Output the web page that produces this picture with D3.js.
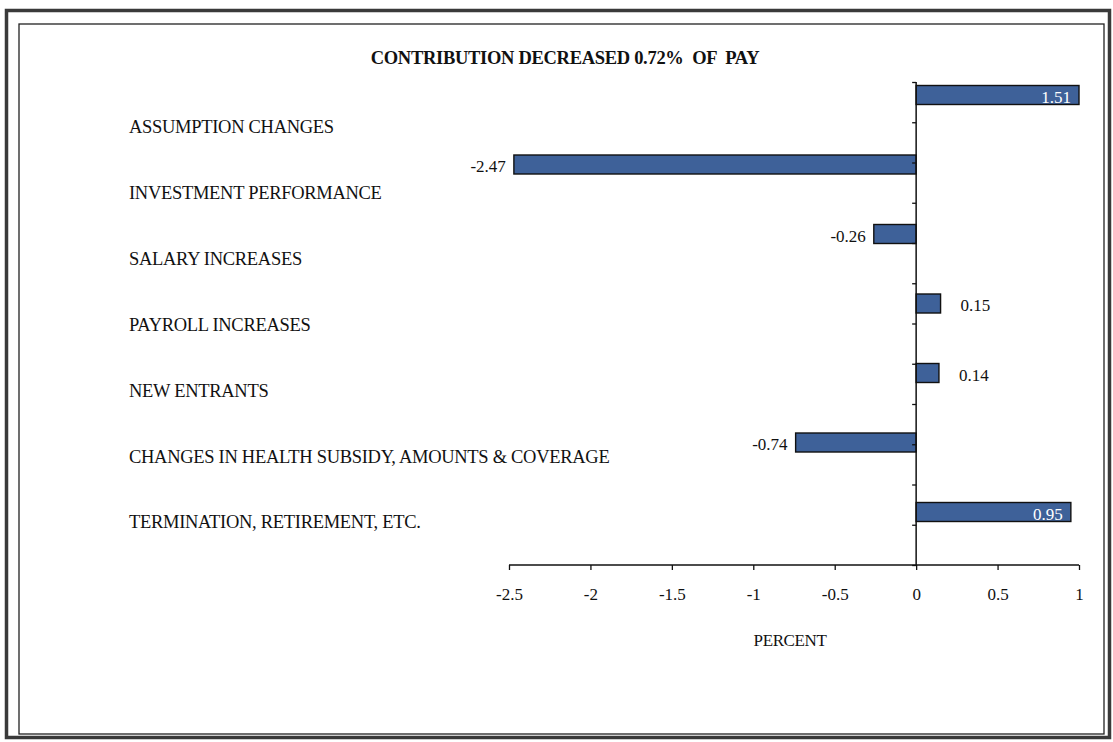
<!DOCTYPE html>
<html>
<head>
<meta charset="utf-8">
<script src="https://cdn.jsdelivr.net/npm/d3@7"></script>
<style>
  html, body { margin: 0; padding: 0; background: #fff; }
  svg { display: block; }
  text { font-family: "Liberation Serif", "Times New Roman", serif; fill: #111; }
</style>
</head>
<body>
<svg id="chart" width="1113" height="742"></svg>
<script>
// Sources of the change in contribution rate, percent of pay
const categories = [
  "ASSUMPTION CHANGES",
  "INVESTMENT PERFORMANCE",
  "SALARY INCREASES",
  "PAYROLL INCREASES",
  "NEW ENTRANTS",
  "CHANGES IN HEALTH SUBSIDY, AMOUNTS & COVERAGE",
  "TERMINATION, RETIREMENT, ETC."
];
const values = [1.51, -2.47, -0.26, 0.15, 0.14, -0.74, 0.95];
const xTickValues = [-2.5, -2, -1.5, -1, -0.5, 0, 0.5, 1];
const titleText = "CONTRIBUTION DECREASED 0.72%  OF  PAY";
const xAxisTitle = "PERCENT";

const svg = d3.select("#chart");
const W = 1113, H = 742;

// page frame: heavy outer rule and thin inner rule
svg.append("rect")
  .attr("x", 6.5).attr("y", 10.5).attr("width", W - 10).attr("height", H - 15)
  .attr("fill", "none").attr("stroke", "#3a3a3a").attr("stroke-width", 3.5);
svg.append("rect")
  .attr("x", 19).attr("y", 24).attr("width", 1085).attr("height", 710)
  .attr("fill", "none").attr("stroke", "#222").attr("stroke-width", 1.3);

// scales
const x = d3.scaleLinear().domain([-2.5, 1]).range([509, 1079]).clamp(true);
const yBar = d3.scalePoint().domain(categories).range([95, 512]);
const yLabel = d3.scalePoint().domain(categories).range([127, 522]);
const barH = 19;
const axisY = 565;

// title
svg.append("text")
  .attr("x", 565).attr("y", 64)
  .attr("text-anchor", "middle")
  .attr("font-size", 18.5).attr("font-weight", "bold")
  .attr("letter-spacing", -0.3)
  .attr("xml:space", "preserve")
  .text(titleText);

// category labels
svg.append("g").selectAll("text")
  .data(categories)
  .join("text")
  .attr("x", 129)
  .attr("y", d => yLabel(d))
  .attr("dy", "0.35em")
  .attr("font-size", 18.5)
  .attr("letter-spacing", -0.3)
  .text(d => d);

// bars
const rows = categories.map((c, i) => ({ cat: c, v: values[i] }));
svg.append("g").selectAll("rect")
  .data(rows)
  .join("rect")
  .attr("x", d => Math.min(x(0), x(d.v)))
  .attr("y", d => yBar(d.cat) - barH / 2)
  .attr("width", d => Math.abs(x(d.v) - x(0)))
  .attr("height", barH)
  .attr("fill", "#3e6199")
  .attr("stroke", "#111")
  .attr("stroke-width", 1.4);

// value labels: outside the bar end where there is room, otherwise inside it
const fmt = d => d.toFixed(2);
const maxRight = 1040;
svg.append("g").selectAll("text")
  .data(rows)
  .join("text")
  .each(function(d) {
    const t = d3.select(this);
    const end = x(d.v);
    t.attr("y", yBar(d.cat) + 2).attr("dy", "0.35em").attr("font-size", 17).text(fmt(d.v));
    if (d.v < 0) {
      t.attr("x", end - 8).attr("text-anchor", "end");
    } else if (end + 20 <= maxRight) {
      t.attr("x", end + 20).attr("text-anchor", "start");
    } else {
      t.attr("x", end - 8).attr("text-anchor", "end").style("fill", "#fff");
    }
  });

// category axis (vertical, at zero) with small tick marks
const yAxisScale = d3.scaleLinear().domain([0, 12]).range([82, axisY]);
const yAxisG = svg.append("g")
  .attr("transform", `translate(${x(0)},0)`)
  .call(d3.axisLeft(yAxisScale).ticks(12).tickSize(4).tickFormat(""));
yAxisG.select(".domain").attr("stroke", "#111").attr("stroke-width", 1.5)
  .attr("d", `M0,${82}V${axisY}`);
yAxisG.selectAll(".tick line").attr("stroke", "#111").attr("stroke-width", 1.3);

// value axis (horizontal)
const xAxisG = svg.append("g")
  .attr("transform", `translate(0,${axisY})`)
  .call(d3.axisBottom(x).tickValues(xTickValues).tickSize(5).tickPadding(18)
    .tickFormat(d => String(d)));
xAxisG.select(".domain").attr("stroke", "#111").attr("stroke-width", 1.5)
  .attr("d", `M${x(-2.5)},0H${x(1)}`);
xAxisG.selectAll(".tick line").attr("stroke", "#111").attr("stroke-width", 1.3);
xAxisG.selectAll(".tick text")
  .attr("font-family", "Liberation Serif, serif")
  .attr("font-size", 17).attr("fill", "#111");

svg.append("text")
  .attr("x", 790).attr("y", 646)
  .attr("text-anchor", "middle")
  .attr("font-size", 17)
  .attr("letter-spacing", -0.4)
  .text(xAxisTitle);
</script>
</body>
</html>
